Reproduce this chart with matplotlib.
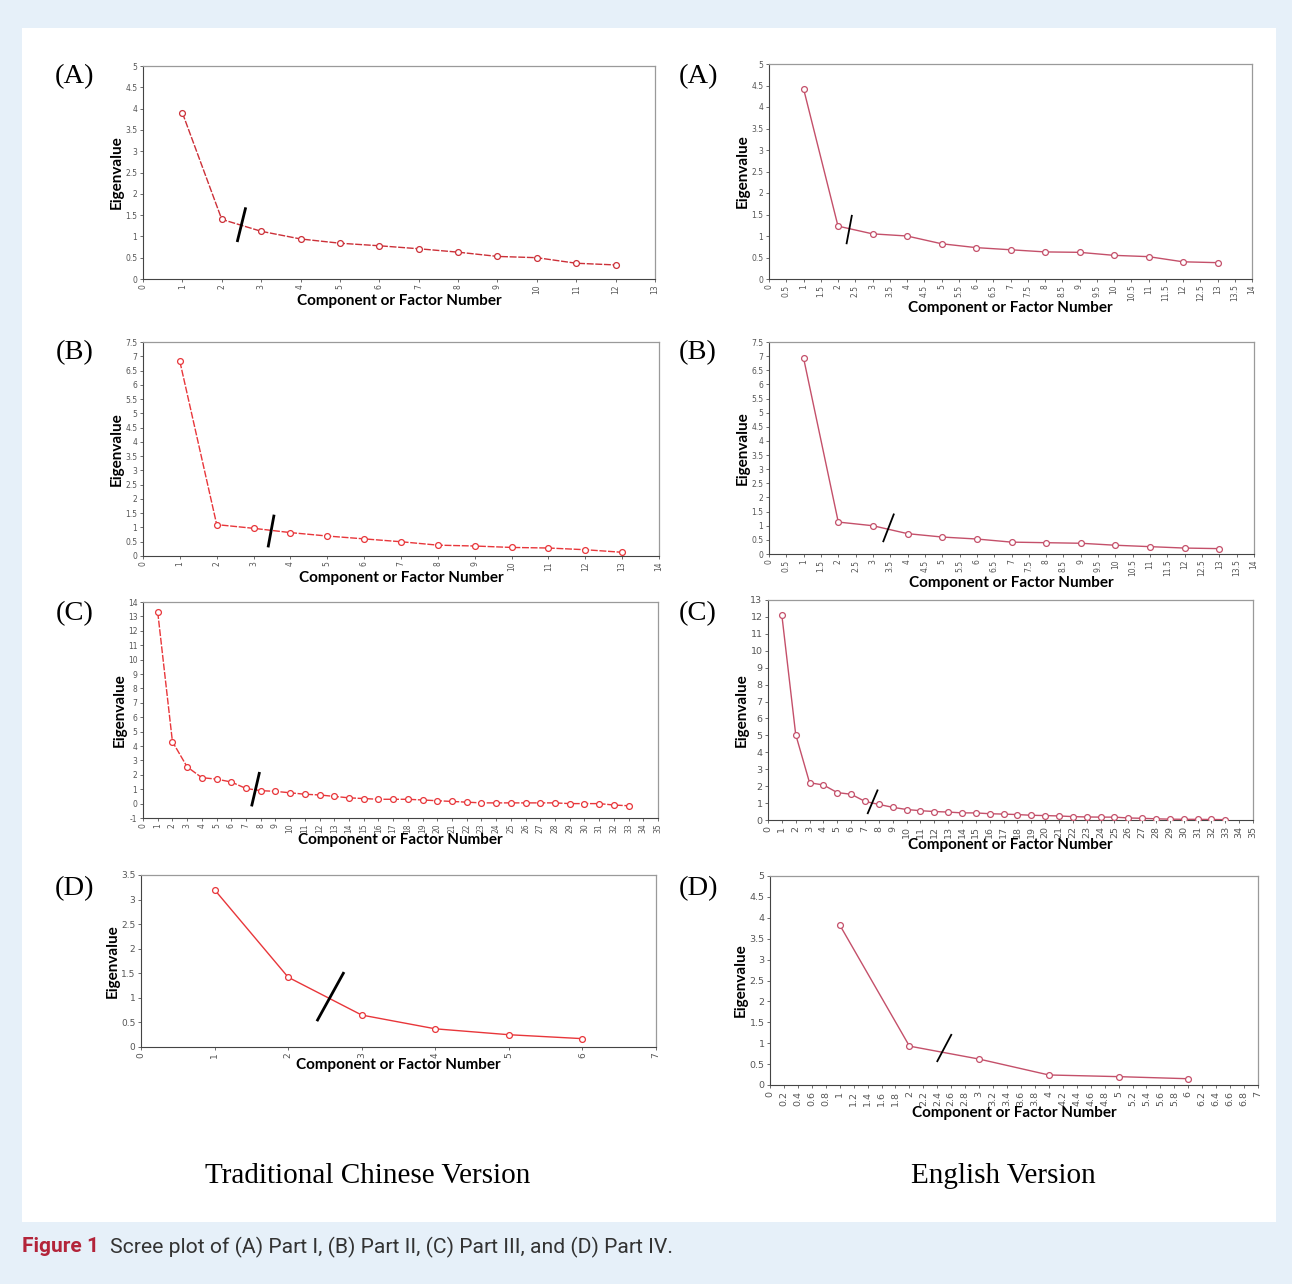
import numpy as np
import matplotlib

matplotlib.use("Agg")
import matplotlib.pyplot as plt
from matplotlib.patches import Rectangle

W, H = 1292, 1284

# eigenvalues
tc_a = [3.9, 1.4, 1.12, 0.94, 0.84, 0.78, 0.71, 0.63, 0.53, 0.5, 0.37, 0.33]
en_a = [4.43, 1.23, 1.05, 1.0, 0.82, 0.73, 0.68, 0.63, 0.62, 0.55, 0.52, 0.4, 0.38]
tc_b = [6.82, 1.1, 0.97, 0.82, 0.7, 0.6, 0.5, 0.38, 0.35, 0.3, 0.28, 0.22, 0.13]
en_b = [6.92, 1.13, 1.0, 0.72, 0.6, 0.53, 0.42, 0.4, 0.38, 0.31, 0.26, 0.21, 0.19]
tc_c = [13.3, 4.3, 2.55, 1.8, 1.7, 1.5, 1.05, 0.9, 0.85, 0.75, 0.65, 0.6, 0.5,
        0.4, 0.35, 0.3, 0.3, 0.3, 0.25, 0.2, 0.15, 0.1, 0.05, 0.05, 0.05, 0.05,
        0.05, 0.05, 0.0, 0.0, 0.0, -0.1, -0.15]
en_c = [12.1, 5.05, 2.2, 2.07, 1.62, 1.52, 1.1, 0.92, 0.75, 0.62, 0.55, 0.5,
        0.47, 0.42, 0.42, 0.37, 0.35, 0.32, 0.28, 0.26, 0.24, 0.2, 0.18, 0.17,
        0.17, 0.12, 0.1, 0.07, 0.05, 0.04, 0.04, 0.03, 0.02]
tc_d = [3.2, 1.42, 0.65, 0.37, 0.25, 0.17]
en_d = [3.83, 0.93, 0.62, 0.24, 0.2, 0.15]

# cut marks (x0, y0, x1, y1) drawn across each curve
cuts = {
    "tc_a": (2.4, 0.9, 2.6, 1.65), "en_a": (2.25, 0.83, 2.4, 1.47),
    "tc_b": (3.4, 0.35, 3.55, 1.4), "en_b": (3.3, 0.45, 3.6, 1.4),
    "tc_c": (7.4, -0.1, 7.9, 2.1), "en_c": (7.2, 0.4, 7.9, 1.75),
    "tc_d": (2.4, 0.55, 2.75, 1.5), "en_d": (2.4, 0.57, 2.6, 1.2),
}

panel_labels = ["(A)", "(B)", "(C)", "(D)"]

# name, data, pixel box (x0, y0, x1, y1), xlim, xstep, ylim, ystep, side
panels = [
    ("tc_a", tc_a, (143, 66, 655, 279), 13, 1, (0, 5), 0.5, "L"),
    ("en_a", en_a, (769, 64, 1252, 279), 14, 0.5, (0, 5), 0.5, "R"),
    ("tc_b", tc_b, (143, 342, 659, 556), 14, 1, (0, 7.5), 0.5, "L"),
    ("en_b", en_b, (769, 342, 1254, 554), 14, 0.5, (0, 7.5), 0.5, "R"),
    ("tc_c", tc_c, (143, 602, 658, 818), 35, 1, (-1, 14), 1, "L"),
    ("en_c", en_c, (768, 600, 1253, 820), 35, 1, (0, 13), 1, "R"),
    ("tc_d", tc_d, (141, 875, 656, 1047), 7, 1, (0, 3.5), 0.5, "L"),
    ("en_d", en_d, (770, 876, 1258, 1085), 7, 0.2, (0, 5), 0.5, "R"),
]

label_font = ["Lato", "DejaVu Sans"]

fig = plt.figure(figsize=(W / 100, H / 100), dpi=100)
fig.patch.set_facecolor("#e6f0f9")
fig.add_artist(Rectangle((22 / W, 1 - 1222 / H), (1276 - 22) / W, (1222 - 28) / H,
                         transform=fig.transFigure, facecolor="white",
                         edgecolor="none", zorder=0))


def fmt(v):
    return f"{round(v, 2):g}"


for i, (name, vals, box, xmax, xstep, ylim, ystep, side) in enumerate(panels):
    x0, y0, x1, y1 = box
    ax = fig.add_axes([x0 / W, 1 - y1 / H, (x1 - x0) / W, (y1 - y0) / H])
    n = np.arange(1, len(vals) + 1)
    if side == "L":
        color = "#e8363a" if name != "tc_a" else "#cc3038"
        ls = (0, (5, 1.2)) if name != "tc_d" else "-"
    else:
        color = "#c4506a"
        ls = "-"
    ax.plot(n, vals, color=color, lw=1.0, ls=ls, marker="o", ms=4.2,
            mfc="white", mec=color, mew=0.9, zorder=3)
    cx0, cy0, cx1, cy1 = cuts[name]
    lw_cut = 2.0 if side == "L" else 1.3
    ax.plot([cx0, cx1], [cy0, cy1], color="black", lw=lw_cut, zorder=4)

    ax.set_xlim(0, xmax)
    ax.set_ylim(*ylim)
    xt = np.round(np.arange(0, xmax + xstep / 2, xstep), 2)
    yt = np.round(np.arange(ylim[0], ylim[1] + ystep / 2, ystep), 2)
    ax.set_xticks(xt)
    ax.set_xticklabels([fmt(v) for v in xt], rotation=90)
    ax.set_yticks(yt)
    ax.set_yticklabels([fmt(v) for v in yt])
    tsize = 5.5
    if name in ("en_c", "en_d"):
        tsize = 6.8
    elif name == "tc_d":
        tsize = 6.5
    ax.tick_params(axis="both", labelsize=tsize, colors="#555555", length=2.5,
                   width=0.6, pad=1.5)
    for s in ("left", "bottom"):
        ax.spines[s].set_color("#444444")
        ax.spines[s].set_linewidth(0.8)
    for s in ("top", "right"):
        ax.spines[s].set_color("#9a9a9a")
        ax.spines[s].set_linewidth(0.9)

    ax.set_xlabel("Component or Factor Number", fontsize=11, fontweight="bold",
                  family=label_font, labelpad=0)
    ax.set_ylabel("Eigenvalue", fontsize=11, fontweight="bold",
                  family=label_font, labelpad=1)

    lx = 75 if side == "L" else 698
    ly = (77, 353, 614, 889)[i // 2]
    fig.text(lx / W, 1 - ly / H, panel_labels[i // 2], fontsize=20.5,
             family="Liberation Serif", ha="center", va="center")

fig.text(368 / W, 1 - 1176 / H, "Traditional Chinese Version", fontsize=21,
         family="Liberation Serif", ha="center", va="center")
fig.text(1003 / W, 1 - 1176 / H, "English Version", fontsize=21,
         family="Liberation Serif", ha="center", va="center")

fig.text(22 / W, 1 - 1247 / H, "Figure 1", fontsize=15, fontweight="bold",
         color="#b3243a", family="Roboto", ha="left", va="center")
fig.text(110 / W, 1 - 1247 / H,
         "Scree plot of (A) Part I, (B) Part II, (C) Part III, and (D) Part IV.",
         fontsize=15.2, color="#333333", family="Roboto", ha="left", va="center")

fig.savefig("out.png", dpi=100, facecolor=fig.get_facecolor())
plt.close(fig)
